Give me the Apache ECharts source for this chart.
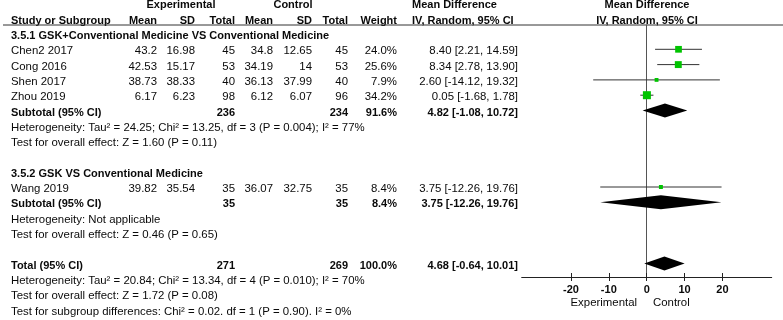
<!DOCTYPE html>
<html><head><meta charset="utf-8">
<script src="https://cdn.jsdelivr.net/npm/echarts@6/dist/echarts.min.js"></script>
<style>html,body{margin:0;padding:0;background:#fff}#c{width:783px;height:320px}</style>
</head><body><div id="c"></div>
<script>
// ---- data ----
const studies   = ['Chen2 2017','Cong 2016','Shen 2017','Zhou 2019','Wang 2019'];
const studyRow  = [3,4,5,6,12];
const expMean   = [43.2, 42.53, 38.73, 6.17, 39.82];
const expSD     = [16.98, 15.17, 38.33, 6.23, 35.54];
const expN      = [45, 53, 40, 98, 35];
const ctrlMean  = [34.8, 34.19, 36.13, 6.12, 36.07];
const ctrlSD    = [12.65, 14, 37.99, 6.07, 32.75];
const ctrlN     = [45, 53, 40, 96, 35];
const weight    = [24.0, 25.6, 7.9, 34.2, 8.4];
const md        = [8.40, 8.34, 2.60, 0.05, 3.75];
const ciLo      = [2.21, 2.78, -14.12, -1.68, -12.26];
const ciHi      = [14.59, 13.90, 19.32, 1.78, 19.76];

const pooledLabel = ['Subtotal (95% CI)','Subtotal (95% CI)','Total (95% CI)'];
const pooledRow   = [7, 13, 17];
const pooledExpN  = [236, 35, 271];
const pooledCtrlN = [234, 35, 269];
const pooledW     = [91.6, 8.4, 100.0];
const pooledMD    = [4.82, 3.75, 4.68];
const pooledLo    = [-1.08, -12.26, -0.64];
const pooledHi    = [10.72, 19.76, 10.01];

const groupTitles = ['3.5.1 GSK+Conventional Medicine VS Conventional Medicine','3.5.2 GSK VS Conventional Medicine'];
const groupRow    = [2, 11];
const notes = [
  [8,  'Heterogeneity: Tau\u00b2 = 24.25; Chi\u00b2 = 13.25, df = 3 (P = 0.004); I\u00b2 = 77%'],
  [9,  'Test for overall effect: Z = 1.60 (P = 0.11)'],
  [14, 'Heterogeneity: Not applicable'],
  [15, 'Test for overall effect: Z = 0.46 (P = 0.65)'],
  [18, 'Heterogeneity: Tau\u00b2 = 20.84; Chi\u00b2 = 13.34, df = 4 (P = 0.010); I\u00b2 = 70%'],
  [19, 'Test for overall effect: Z = 1.72 (P = 0.08)'],
  [20, 'Test for subgroup differences: Chi\u00b2 = 0.02. df = 1 (P = 0.90). I\u00b2 = 0%']
];
const tickValues = [-20, -10, 0, 10, 20];

// ---- layout ----
const FONT = '"Liberation Sans", Arial, sans-serif';
const ROW_H = 15.3, ROW2_Y = 36;
const GRID_TOP = 25, GRID_H = 252, GRID_L = 521.7, GRID_W = 250;
const MARK_SHIFT = -2;
function textY(k){ return ROW2_Y + (k-2)*ROW_H; }
const yMin = 2 - (ROW2_Y + MARK_SHIFT - GRID_TOP)/ROW_H;
const yMax = yMin + GRID_H/ROW_H;
const LX = 11;
const COL = {eM:157, eSD:195, eN:235, cM:273, cSD:312, cN:348, w:397, md:518};

const g = [];
function T(x, y, str, align, bold){
  g.push({type:'text', x:x, y:y, silent:true, style:{text:str, x:0, y:0,
    align:align, textAlign:align, verticalAlign:'middle', textVerticalAlign:'middle',
    font:(bold?'bold 11px ':'11.4px ')+FONT, fill:'#0a0a0a'}});
}
// header
T(181, textY(0), 'Experimental', 'center', true);
T(293, textY(0), 'Control', 'center', true);
T(412, textY(0), 'Mean Difference', 'left', true);
T(647, textY(0), 'Mean Difference', 'center', true);
T(LX, textY(1), 'Study or Subgroup', 'left', true);
T(COL.eM, textY(1), 'Mean', 'right', true);
T(COL.eSD, textY(1), 'SD', 'right', true);
T(COL.eN, textY(1), 'Total', 'right', true);
T(COL.cM, textY(1), 'Mean', 'right', true);
T(COL.cSD, textY(1), 'SD', 'right', true);
T(COL.cN, textY(1), 'Total', 'right', true);
T(COL.w, textY(1), 'Weight', 'right', true);
T(412, textY(1), 'IV, Random, 95% CI', 'left', true);
T(647, textY(1), 'IV, Random, 95% CI', 'center', true);
g.push({type:'line', silent:true, shape:{x1:3, y1:GRID_TOP, x2:783, y2:GRID_TOP}, style:{stroke:'#333', lineWidth:1}});

groupTitles.forEach((t,i)=>T(LX, textY(groupRow[i]), t, 'left', true));
studies.forEach((s,i)=>{
  const y = textY(studyRow[i]);
  T(LX, y, s, 'left', false);
  T(COL.eM, y, String(expMean[i]), 'right', false);
  T(COL.eSD, y, String(expSD[i]), 'right', false);
  T(COL.eN, y, String(expN[i]), 'right', false);
  T(COL.cM, y, String(ctrlMean[i]), 'right', false);
  T(COL.cSD, y, String(ctrlSD[i]), 'right', false);
  T(COL.cN, y, String(ctrlN[i]), 'right', false);
  T(COL.w, y, weight[i].toFixed(1)+'%', 'right', false);
  T(COL.md, y, md[i].toFixed(2)+' ['+ciLo[i].toFixed(2)+', '+ciHi[i].toFixed(2)+']', 'right', false);
});
pooledLabel.forEach((s,i)=>{
  const y = textY(pooledRow[i]);
  T(LX, y, s, 'left', true);
  T(COL.eN, y, String(pooledExpN[i]), 'right', true);
  T(COL.cN, y, String(pooledCtrlN[i]), 'right', true);
  T(COL.w, y, pooledW[i].toFixed(1)+'%', 'right', true);
  T(COL.md, y, pooledMD[i].toFixed(2)+' ['+pooledLo[i].toFixed(2)+', '+pooledHi[i].toFixed(2)+']', 'right', true);
});
notes.forEach(n=>T(LX, textY(n[0]), n[1], 'left', false));
T(637, 303, 'Experimental', 'right', false);
T(653, 303, 'Control', 'left', false);

const whiskerData = studies.map((s,i)=>[ciLo[i], ciHi[i], studyRow[i]]);
const squareData  = studies.map((s,i)=>[md[i], studyRow[i], weight[i]]);
const diamondData = pooledRow.map((r,i)=>[pooledLo[i], pooledMD[i], pooledHi[i], r]);

const chart = echarts.init(document.getElementById('c'), null, {renderer:'canvas'});
chart.setOption({
  animation:false,
  grid:{left:GRID_L, top:GRID_TOP, width:GRID_W, height:GRID_H},
  xAxis:[{
    type:'value', min:-33, max:33, position:'bottom',
    axisLine:{show:true, onZero:false, lineStyle:{color:'#222', width:1}},
    axisTick:{show:true, inside:false, length:4, customValues:tickValues, lineStyle:{color:'#222'}},
    axisLabel:{show:true, customValues:tickValues, margin:7, color:'#0a0a0a', fontFamily:FONT, fontSize:11, fontWeight:'bold'},
    splitLine:{show:false}
  },{
    type:'value', min:-33, max:33, position:'bottom',
    axisLine:{show:false},
    axisTick:{show:true, inside:true, length:4, customValues:tickValues, lineStyle:{color:'#222'}},
    axisLabel:{show:false}, splitLine:{show:false}
  }],
  yAxis:{type:'value', inverse:true, min:yMin, max:yMax,
    axisLine:{show:true, onZero:true, lineStyle:{color:'#555', width:1}},
    axisTick:{show:false}, axisLabel:{show:false}, splitLine:{show:false}},
  graphic:g,
  series:[
    {type:'custom', xAxisIndex:0, data:whiskerData, silent:true,
     renderItem:(params, api)=>{
       const a = api.coord([api.value(0), api.value(2)]);
       const b = api.coord([api.value(1), api.value(2)]);
       return {type:'line', shape:{x1:a[0], y1:a[1], x2:b[0], y2:b[1]}, style:{stroke:'#333', lineWidth:1}};
     }},
    {type:'scatter', xAxisIndex:0, data:squareData, symbol:'rect', silent:true,
     symbolSize:(v)=>13.7*Math.sqrt(v[2]/100),
     itemStyle:{color:'#00c400', opacity:1}},
    {type:'custom', xAxisIndex:0, data:diamondData, silent:true,
     renderItem:(params, api)=>{
       const y = api.value(3);
       const l = api.coord([api.value(0), y]);
       const m = api.coord([api.value(1), y]);
       const r = api.coord([api.value(2), y]);
       const h = 7;
       return {type:'polygon', shape:{points:[[l[0],l[1]],[m[0],m[1]-h],[r[0],r[1]],[m[0],m[1]+h]]}, style:{fill:'#000'}};
     }}
  ]
});
</script></body></html>
